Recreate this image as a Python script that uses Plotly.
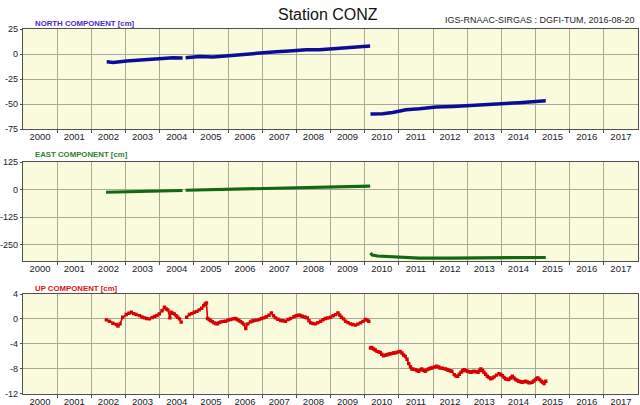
import plotly.graph_objects as go

# ---------------- data (decimal years, cm) ----------------
years = list(range(2000, 2018))

north_t = [2002.45, 2002.64, 2003.03, 2003.52, 2004.00, 2004.39, 2004.67, None,
           2004.76, 2005.17, 2005.56, 2005.95, 2006.54, 2006.93, 2007.31, 2007.90, 2008.29, 2008.68,
           2009.26, 2009.65, 2009.94, 2010.16, None,
           2010.17, 2010.53, 2010.82, 2011.21, 2011.60, 2012.09, 2012.58, 2013.06, 2013.55,
           2014.04, 2014.52, 2014.91, 2015.30]
north_v = [-7.7, -8.4, -7.0, -5.7, -4.4, -3.7, -4.0, None,
           -3.7, -2.4, -3.0, -1.7, -0.4, 1.0, 2.0, 3.3, 4.3, 4.3,
           5.6, 6.6, 7.3, 8.0, None,
           -60.0, -59.7, -58.4, -55.7, -54.7, -53.0, -52.4, -51.7, -50.7,
           -49.7, -48.7, -47.7, -46.7]

east_t = [2002.43, 2003.00, 2003.50, 2004.00, 2004.67, None,
          2004.76, 2005.50, 2006.14, 2007.00, 2008.00, 2008.68, 2009.50, 2010.16, None,
          2010.17, 2010.22, 2010.38, 2011.02, 2011.21, 2011.60, 2012.50, 2013.50, 2014.50, 2015.30]
east_v = [-12.4, -10.0, -8.5, -6.5, -4.5, None,
          -3.5, -1.0, 2.0, 5.0, 7.0, 7.7, 11.5, 15.0, None,
          -288.5, -297.7, -302.3, -307.0, -309.7, -311.5, -311.5, -311.0, -310.0, -309.0]

up_t = [2002.44, 2002.53, 2002.63, 2002.73, 2002.78, 2002.84, 2002.92, 2003.02, 2003.10, 2003.17,
        2003.24, 2003.31, 2003.41, 2003.48, 2003.55, 2003.62, 2003.70, 2003.78, 2003.85, 2003.92,
        2003.99, 2004.07, 2004.14, 2004.19, 2004.24, 2004.30, 2004.33, 2004.38, 2004.43, 2004.48,
        2004.53, 2004.58, 2004.63, None,
        2004.79, 2004.87, 2004.94, 2005.01, 2005.09, 2005.16, 2005.23, 2005.29, 2005.33, 2005.37,
        2005.40, 2005.45, 2005.49, 2005.54, 2005.59, 2005.64, 2005.69, 2005.74, 2005.79, 2005.86,
        2005.93, 2006.00, 2006.08, 2006.15, 2006.22, 2006.27, 2006.32, 2006.37, 2006.42, 2006.47,
        2006.52, 2006.58, 2006.66, 2006.71, 2006.76, 2006.84, 2006.91, 2006.98, 2007.05, 2007.12,
        2007.20, 2007.27, 2007.33, 2007.39, 2007.46, 2007.54, 2007.61, 2007.68, 2007.76, 2007.83,
        2007.93, 2008.00, 2008.07, 2008.12, 2008.17, 2008.25, 2008.32, 2008.37, 2008.42, 2008.49,
        2008.56, 2008.63, 2008.71, 2008.78, 2008.85, 2008.92, 2009.00, 2009.08, 2009.15, 2009.22,
        2009.27, 2009.32, 2009.38, 2009.44, 2009.51, 2009.58, 2009.65, 2009.73, 2009.80, 2009.88,
        2009.95, 2010.02, 2010.07, 2010.12, None,
        2010.17, 2010.21, 2010.26, 2010.31, 2010.36, 2010.41, 2010.46, 2010.50, 2010.55, 2010.60,
        2010.65, 2010.70, 2010.75, 2010.80, 2010.85, 2010.90, 2010.94, 2010.99, 2011.04, 2011.09,
        2011.14, 2011.19, 2011.24, 2011.29, 2011.34, 2011.38, 2011.43, 2011.48, 2011.53, 2011.58,
        2011.63, 2011.67, 2011.72, 2011.77, 2011.82, 2011.87, 2011.92, 2011.97, 2012.04, 2012.11,
        2012.16, 2012.21, 2012.28, 2012.36, 2012.41, 2012.45, 2012.50, 2012.55, 2012.62, 2012.67,
        2012.72, 2012.77, 2012.82, 2012.87, 2012.91, 2012.96, 2013.01, 2013.06, 2013.11, 2013.16,
        2013.20, 2013.26, 2013.32, 2013.36, 2013.40, 2013.45, 2013.49, 2013.54, 2013.59, 2013.64,
        2013.69, 2013.74, 2013.79, 2013.86, 2013.93, 2013.98, 2014.03, 2014.08, 2014.12, 2014.17,
        2014.22, 2014.27, 2014.32, 2014.37, 2014.42, 2014.47, 2014.51, 2014.56, 2014.61, 2014.66,
        2014.71, 2014.76, 2014.81, 2014.86, 2014.90, 2014.95, 2015.00, 2015.04, 2015.07, 2015.12,
        2015.17, 2015.21, 2015.25, 2015.30]
up_v = [-0.16, -0.37, -0.70, -0.90, -1.17, -0.80, 0.27, 0.70, 0.90, 1.07,
        0.85, 0.70, 0.53, 0.30, 0.16, 0.05, 0.00, 0.20, 0.37, 0.55,
        0.80, 1.30, 1.87, 1.60, 1.44, 0.16, 1.07, 0.90, 0.80, 0.50,
        0.27, 0.00, -0.53, None,
        0.27, 0.70, 0.85, 1.07, 1.20, 1.44, 1.70, 2.10, 2.40, 2.56,
        0.05, -0.10, -0.27, -0.45, -0.64, -0.75, -0.80, -0.60, -0.48, -0.40,
        -0.37, -0.20, -0.10, 0.00, 0.05, -0.10, -0.27, -0.45, -0.64, -0.90,
        -1.55, -0.80, -0.48, -0.35, -0.27, -0.20, -0.10, 0.05, 0.16, 0.35,
        0.59, 0.96, 0.50, 0.16, -0.05, -0.27, -0.30, -0.37, -0.10, 0.05,
        0.35, 0.50, 0.59, 0.55, 0.43, 0.30, 0.16, -0.30, -0.64, -0.75,
        -0.80, -0.60, -0.37, -0.15, 0.05, 0.15, 0.27, 0.50, 0.69, 0.96,
        0.60, 0.27, 0.00, -0.37, -0.60, -0.80, -0.90, -1.00, -0.85, -0.64,
        -0.40, -0.10, -0.20, -0.37, None,
        -4.69, -4.60, -4.85, -5.00, -5.23, -5.30, -5.39, -5.70, -5.92, -5.85,
        -5.76, -5.70, -5.60, -5.55, -5.49, -5.45, -5.39, -5.30, -5.23, -5.49,
        -5.80, -6.03, -6.50, -7.20, -7.70, -8.05, -8.10, -8.16, -8.30, -8.43,
        -8.20, -8.05, -8.25, -8.43, -8.20, -8.05, -7.95, -7.89, -7.75, -7.63,
        -7.75, -7.89, -7.95, -8.05, -8.15, -8.27, -8.35, -8.43, -8.96, -9.20,
        -9.23, -8.90, -8.59, -8.35, -8.16, -8.30, -8.43, -8.50, -8.59, -8.50,
        -8.43, -8.50, -8.59, -8.30, -8.05, -8.30, -8.59, -8.90, -9.23, -9.45,
        -9.65, -9.50, -9.33, -9.05, -8.80, -8.95, -9.12, -9.40, -9.65, -9.70,
        -9.76, -9.50, -9.23, -9.50, -9.76, -9.90, -10.03, -10.10, -10.19, -10.10,
        -10.03, -10.15, -10.29, -10.25, -10.19, -10.00, -9.76, -9.60, -9.49, -9.75,
        -10.03, -10.20, -10.40, -10.03]

north_ticks = [25, 0, -25, -50, -75]
east_ticks = [125, 0, -125, -250]
up_ticks = [4, 0, -4, -8, -12]

title_text = "Station CONZ"
source_text = "IGS-RNAAC-SIRGAS : DGFI-TUM, 2016-08-20"
panel_labels = ["NORTH COMPONENT [cm]", "EAST COMPONENT [cm]", "UP COMPONENT [cm]"]

# ---------------- styling ----------------
FONT = "Liberation Sans, Arial, sans-serif"
BG = "#fafadc"
GRID = "#a8a898"
FRAME = "#505050"
W, H = 640, 405
L, R = 23, 2

def frac(px):
    return 1 - px / H

fig = go.Figure()
fig.add_trace(go.Scatter(x=north_t, y=north_v, mode="lines", xaxis="x", yaxis="y",
                         line=dict(color="#0c0c96", width=3.5), connectgaps=False, showlegend=False))
fig.add_trace(go.Scatter(x=east_t, y=east_v, mode="lines", xaxis="x2", yaxis="y2",
                         line=dict(color="#136813", width=3.2), connectgaps=False, showlegend=False))
fig.add_trace(go.Scatter(x=up_t, y=up_v, mode="lines+markers", xaxis="x3", yaxis="y3",
                         line=dict(color="#d80000", width=1.6), connectgaps=False,
                         marker=dict(color="#d80000", size=3.4, symbol="square", line=dict(width=0)),
                         showlegend=False))

def xaxis(anchor):
    return dict(range=[2000, 2018], domain=[0, 1], anchor=anchor,
                tickmode="array", tickvals=[y + 0.5 for y in years], ticktext=[str(y) for y in years],
                showgrid=False, ticks="", zeroline=False,
                showline=True, mirror=True, linecolor=FRAME, linewidth=1,
                tickfont=dict(family=FONT, size=9.5, color="#222"),
                ticklabelstandoff=-1, ticklabeloverflow="allow",
                minor=dict(tickmode="array", tickvals=years[1:], showgrid=True,
                           gridcolor=GRID, gridwidth=1, ticks="outside", ticklen=3, tickcolor=FRAME),
                automargin=False, fixedrange=True)

def yaxis(anchor, rng, ticks, dom):
    # tick marks and gridlines from the axis; labels are drawn as annotations below
    return dict(range=rng, domain=dom, anchor=anchor, tickmode="array", tickvals=ticks,
                showticklabels=False,
                showgrid=True, gridcolor=GRID, gridwidth=1, zeroline=False,
                ticks="outside", ticklen=2, tickcolor=FRAME,
                showline=True, mirror=True, linecolor=FRAME, linewidth=1,
                automargin=False, fixedrange=True)

fig.update_layout(
    width=W, height=H, template="none",
    margin=dict(l=L, r=R, t=0, b=0, pad=0),
    paper_bgcolor="white", plot_bgcolor=BG,
    xaxis=xaxis("y"), xaxis2=xaxis("y2"), xaxis3=xaxis("y3"),
    yaxis=yaxis("x", [-75, 25], north_ticks, [frac(129), frac(29)]),
    yaxis2=yaxis("x2", [-325, 125], east_ticks, [frac(261), frac(162)]),
    yaxis3=yaxis("x3", [-12, 4], up_ticks, [frac(393.5), frac(294)]),
    showlegend=False,
)

# y tick labels, positioned in each axis' own data coordinates
for yref, ticks in (("y", north_ticks), ("y2", east_ticks), ("y3", up_ticks)):
    for t in ticks:
        fig.add_annotation(text=str(t), x=0, xref="paper", y=t, yref=yref,
                           xanchor="right", yanchor="middle", xshift=-3, showarrow=False,
                           font=dict(family=FONT, size=9, color="#222"))

pw = W - L - R
def px_x(px):
    return (px - L) / pw

label_colors = ["#4a2ac8", "#2e8030", "#e01010"]
label_y = [23, 155, 288]
for txt, col, yy in zip(panel_labels, label_colors, label_y):
    fig.add_annotation(text="<b>" + txt + "</b>", x=px_x(33), y=frac(yy), xref="paper", yref="paper",
                       xanchor="left", yanchor="middle", showarrow=False,
                       font=dict(family=FONT, size=7.8, color=col))

fig.add_annotation(text=title_text, x=px_x(328), y=frac(15), xref="paper", yref="paper",
                   xanchor="center", yanchor="middle", showarrow=False,
                   font=dict(family=FONT, size=16, color="#111"))
fig.add_annotation(text=source_text, x=px_x(637), y=frac(20.5), xref="paper", yref="paper",
                   xanchor="right", yanchor="middle", showarrow=False,
                   font=dict(family=FONT, size=9, color="#222"))

fig.write_html("out.html", config={"displayModeBar": False},
               post_script="document.body.style.margin='0';document.body.style.overflow='hidden';")
